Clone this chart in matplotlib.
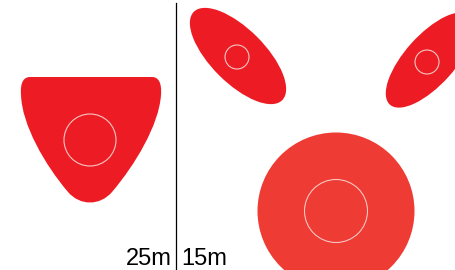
import matplotlib
matplotlib.use("Agg")
import matplotlib.pyplot as plt
from matplotlib.patches import Circle, Ellipse, PathPatch
from matplotlib.path import Path

# --- data (pixel-space illustration) ---
labels = ["25m", "15m"]
ellipse_centers = [(238, 56), (430, 60)]
ellipse_sizes = [(125, 54), (120, 50)]
ellipse_angles = [45, -48]
ellipse_ring_centers = [(237, 57), (427, 62)]
ellipse_ring_radius = 12
shield_ring_center = (90, 140)
shield_ring_radius = 26
disc_center = (336, 211)
disc_radius = 78.5
disc_ring_radius = 31.5

RED = "#ED1C24"
RED2 = "#EE3B34"
RING = "#F7C6C2"

fig = plt.figure(figsize=(4.56, 2.70), dpi=100)
ax = fig.add_axes([0, 0, 1, 1])
ax.set_xlim(0, 456)
ax.set_ylim(270, 0)
ax.axis("off")

# shield (rounded triangle)
verts = [
    (30, 77), (152, 77),
    (158, 77), (162, 82), (161, 95),
    (159, 125), (135, 165), (112, 192),
    (100, 206), (80, 206), (68, 192),
    (45, 165), (22, 125), (21, 95),
    (20, 82), (24, 77), (30, 77),
]
codes = [Path.MOVETO, Path.LINETO] + [Path.CURVE4] * 15
ax.add_patch(PathPatch(Path(verts, codes), facecolor=RED, edgecolor="none"))
ax.add_patch(Circle(shield_ring_center, shield_ring_radius, fill=False, edgecolor=RING, lw=0.8))

# ellipses
for c, (w, h), a, rc in zip(ellipse_centers, ellipse_sizes, ellipse_angles, ellipse_ring_centers):
    ax.add_patch(Ellipse(c, w, h, angle=a, facecolor=RED, edgecolor="none"))
    ax.add_patch(Circle(rc, ellipse_ring_radius, fill=False, edgecolor=RING, lw=0.8))

# big disc
ax.add_patch(Circle(disc_center, disc_radius, facecolor=RED2, edgecolor="none"))
ax.add_patch(Circle(disc_center, disc_ring_radius, fill=False, edgecolor=RING, lw=0.8))

# divider line
ax.plot([176, 176], [3, 270], color="black", lw=0.9)

ax.text(172, 265, labels[0], ha="right", va="baseline", fontsize=17, family="Liberation Sans")
ax.text(181, 265, labels[1], ha="left", va="baseline", fontsize=17, family="Liberation Sans")

fig.savefig("out.png", dpi=100)
